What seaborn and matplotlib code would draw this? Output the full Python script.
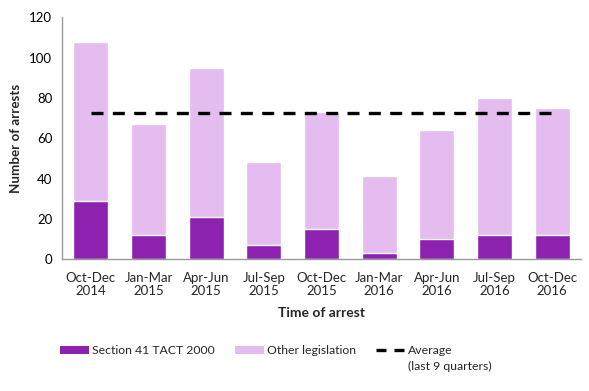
import numpy as np
import pandas as pd
import matplotlib
matplotlib.use("Agg")
import matplotlib.pyplot as plt
import seaborn as sns
from matplotlib.patches import Patch
from matplotlib.lines import Line2D

quarters = ["Oct-Dec\n2014", "Jan-Mar\n2015", "Apr-Jun\n2015", "Jul-Sep\n2015", "Oct-Dec\n2015",
            "Jan-Mar\n2016", "Apr-Jun\n2016", "Jul-Sep\n2016", "Oct-Dec\n2016"]
section41 = [29, 12, 21, 7, 15, 3, 10, 12, 12]
totals = [108, 67, 95, 48, 73, 41, 64, 80, 75]
y_ticks = [0, 20, 40, 60, 80, 100, 120]

dark = "#8E22B0"
light = "#E4BCF0"

sns.set_theme(style="white")
plt.rcParams["font.family"] = ["Lato", "DejaVu Sans"]

df = pd.DataFrame({"quarter": quarters, "s41": section41, "total": totals})
avg = float(np.mean(totals))

W, H = 589, 391
fig = plt.figure(figsize=(W / 100, H / 100), dpi=100)
ax = fig.add_axes([62/W, 1-259/H, (581-62)/W, (259-17.5)/H])

sns.barplot(data=df, x="quarter", y="total", color=light, saturation=1, width=0.61, ax=ax)
sns.barplot(data=df, x="quarter", y="s41", color=dark, saturation=1, width=0.61, ax=ax)
sns.lineplot(x=np.arange(len(quarters)), y=np.full(len(quarters), avg), color="black",
             linewidth=2.4, ax=ax, dashes=False)
ax.lines[-1].set_linestyle((0, (3.6, 2.8)))

ax.set_xlim(-0.5, len(quarters) - 0.5)
ax.set_ylim(0, 120)
ax.set_yticks(y_ticks)
ax.set_yticklabels([str(v) for v in y_ticks], fontsize=9.5)
ax.set_xticks(np.arange(len(quarters)))
ax.set_xticklabels(quarters, fontsize=9.5, linespacing=1.15)
ax.set_xticks(np.arange(len(quarters) + 1) - 0.5, minor=True)
ax.tick_params(axis="x", which="major", length=0, pad=9)
ax.tick_params(axis="x", which="minor", length=4, color="#999999", width=1, direction="out")
ax.tick_params(axis="y", which="major", length=4, color="#999999", width=1, direction="out",
               pad=3, labelcolor="black")

for s in ["top", "right"]:
    ax.spines[s].set_visible(False)
for s in ["left", "bottom"]:
    ax.spines[s].set_color("#999999")
    ax.spines[s].set_linewidth(1)

ax.set_xlabel("Time of arrest", fontsize=10, fontweight="bold", labelpad=7)
ax.set_ylabel("Number of arrests", fontsize=9.6, fontweight="bold", labelpad=5)

handles = [Patch(facecolor=dark, edgecolor="none"),
           Patch(facecolor=light, edgecolor="none"),
           Line2D([0], [0], color="black", linewidth=2.4, linestyle=(0, (3.0, 2.4)))]
labels = ["Section 41 TACT 2000", "Other legislation", "Average"]
leg = fig.legend(handles, labels, loc="center left", bbox_to_anchor=(60/W, 1-351/H),
                 ncol=3, frameon=False, fontsize=8.8, handlelength=2.4, handleheight=0.65,
                 handletextpad=0.25, columnspacing=1.6, borderpad=0, borderaxespad=0)

fig.canvas.draw()
bb = leg.get_texts()[2].get_window_extent()
fig.text(bb.x0 / W, (bb.y0 - 4) / H, "(last 9 quarters)", fontsize=8.8, ha="left", va="top")

fig.savefig("out.png", dpi=100)
